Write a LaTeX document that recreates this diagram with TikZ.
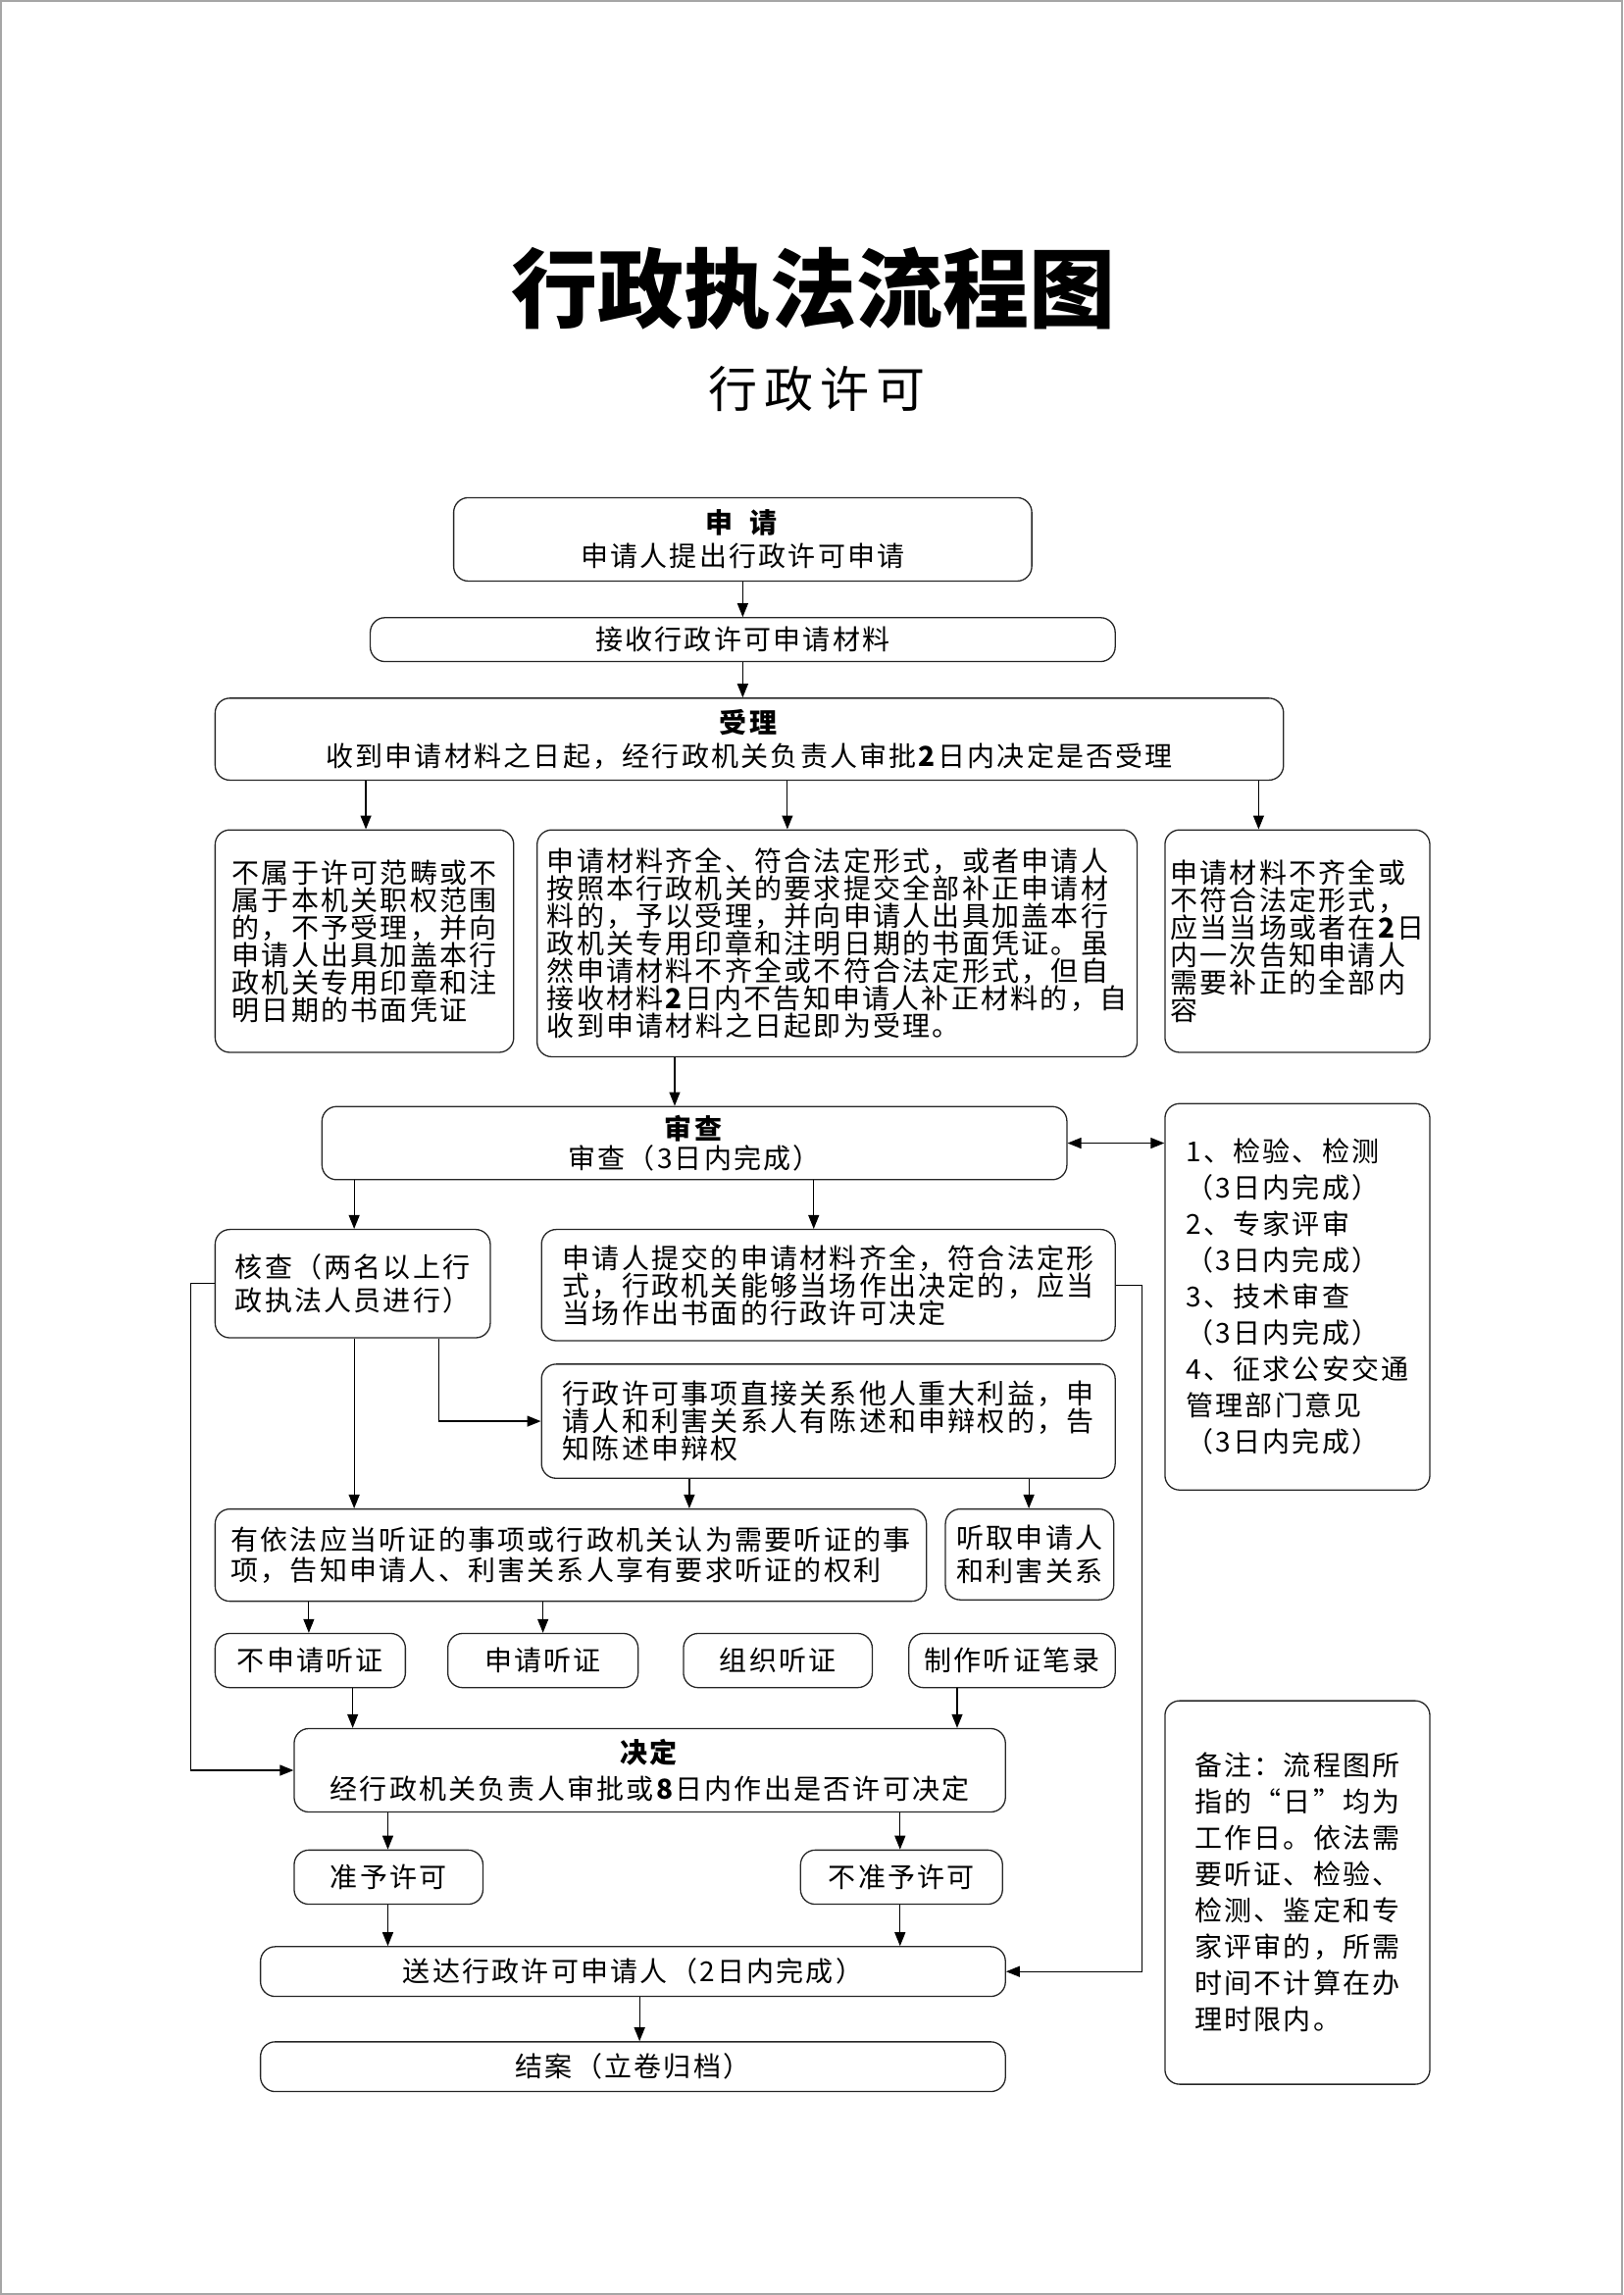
\documentclass[tikz,border=0pt]{standalone}
\usepackage{fontspec}
\setmainfont{Noto Sans CJK SC}[LetterSpace=8]
\newfontfamily\titlefont{Noto Sans CJK SC}
\newfontfamily\subfont{Noto Sans CJK SC}[LetterSpace=14]
\usetikzlibrary{arrows.meta}
\newcommand\bx[6][]{\node[box,#1,minimum width={(#4-#2)*1.49234pt},minimum height={(#5-#3)*1.49234pt}] (#6) at ({(#2+#4)/2},{(#3+#5)/2})}
\begin{document}
\begin{tikzpicture}[x=1.49234pt, y=-1.49234pt,
  box/.style={draw=black!85, line width=1.3pt, rounded corners=15pt, inner sep=0pt, align=left, font=\fontsize{28}{28}\selectfont},
  hdr/.style={align=center, font=\fontsize{28}{34}\selectfont},
  arr/.style={-{Triangle[length=14pt,width=11pt]}, line width=1.2pt, black},
  darr/.style={{Triangle[length=14pt,width=11pt]}-{Triangle[length=14pt,width=11pt]}, line width=1.2pt, black},
]
\useasboundingbox (0,0) rectangle (1109,1568);
\draw[gray!70, line width=2pt] (1,1) rectangle (1108,1567);

\node[font=\titlefont\bfseries\fontsize{88}{88}\selectfont] (title) at (556,197) {行政执法流程图};
\node[font=\subfont\fontsize{50}{50}\selectfont] (sub) at (558,266) {行政许可};

\bx[hdr]{310}{340}{705}{397}{sq} {\textbf{申\hspace{0.6em}请}\\申请人提出行政许可申请};
\bx{253}{422}{762}{452}{js} {接收行政许可申请材料};
\bx[hdr]{147}{477}{877}{533}{sl} {\textbf{受理}\\收到申请材料之日起，经行政机关负责人审批\textbf{2}日内决定是否受理};

\bx{147}{567}{351}{719}{b1} {不属于许可范畴或不\\属于本机关职权范围\\的，不予受理，并向\\申请人出具加盖本行\\政机关专用印章和注\\明日期的书面凭证};
\bx{367}{567}{777}{722}{b2} {申请材料齐全、符合法定形式，或者申请人\\按照本行政机关的要求提交全部补正申请材\\料的，予以受理，并向申请人出具加盖本行\\政机关专用印章和注明日期的书面凭证。虽\\然申请材料不齐全或不符合法定形式，但自\\接收材料\textbf{2}日内不告知申请人补正材料的，自\\收到申请材料之日起即为受理。};
\bx{796}{567}{977}{719}{b3} {申请材料不齐全或\\不符合法定形式，\\应当当场或者在\textbf{2}日\\内一次告知申请人\\需要补正的全部内\\容};

\bx[align=center, font=\fontsize{28}{30}\selectfont]{220}{756}{729}{806}{sc} {\textbf{审查}\\审查（3日内完成）};
\bx[font=\fontsize{28}{37}\selectfont]{796}{754}{977}{1018}{r1} {1、检验、检测\\（3日内完成）\\2、专家评审\\（3日内完成）\\3、技术审查\\（3日内完成）\\4、征求公安交通\\管理部门意见\\（3日内完成）};

\bx[font=\fontsize{28}{34}\selectfont]{147}{840}{335}{914}{hc} {核查（两名以上行\\政执法人员进行）};
\bx{370}{840}{762}{916}{tj} {申请人提交的申请材料齐全，符合法定形\\式，行政机关能够当场作出决定的，应当\\当场作出书面的行政许可决定};
\bx{370}{932}{762}{1010}{sx} {行政许可事项直接关系他人重大利益，申\\请人和利害关系人有陈述和申辩权的，告\\知陈述申辩权};

\bx[font=\fontsize{28}{31}\selectfont]{147}{1031}{633}{1094}{yf} {有依法应当听证的事项或行政机关认为需要听证的事\\项，告知申请人、利害关系人享有要求听证的权利};
\bx[font=\fontsize{28}{34}\selectfont]{646}{1031}{761}{1093}{tq} {听取申请人\\和利害关系};

\bx{147}{1116}{277}{1153}{s1} {不申请听证};
\bx{306}{1116}{436}{1153}{s2} {申请听证};
\bx{467}{1116}{596}{1153}{s3} {组织听证};
\bx{621}{1116}{762}{1153}{s4} {制作听证笔录};

\bx[align=center, font=\fontsize{28}{37}\selectfont]{201}{1181}{687}{1238}{jd} {\textbf{决定}\\经行政机关负责人审批或\textbf{8}日内作出是否许可决定};
\bx{201}{1264}{330}{1301}{zy} {准予许可};
\bx{547}{1264}{685}{1301}{bz} {不准予许可};
\bx{178}{1330}{687}{1364}{sd} {送达行政许可申请人（2日内完成）};
\bx{178}{1395}{687}{1429}{ja} {结案（立卷归档）};

\bx[font=\fontsize{28}{37}\selectfont]{796}{1162}{977}{1424}{note} {备注：流程图所\\指的“日”均为\\工作日。依法需\\要听证、检验、\\检测、鉴定和专\\家评审的，所需\\时间不计算在办\\理时限内。};

\draw[arr] (sq.south) -- (sq.south |- js.north);
\draw[arr] (js.south) -- (js.south |- sl.north);
\draw[arr] (sl.south -| 250,0) -- (b1.north -| 250,0);
\draw[arr] (sl.south -| 538,0) -- (b2.north -| 538,0);
\draw[arr] (sl.south -| 860,0) -- (b3.north -| 860,0);
\draw[arr] (b2.south -| 461,0) -- (sc.north -| 461,0);
\draw[darr] (sc.east) -- (sc.east -| r1.west);
\draw[arr] (sc.south -| 242,0) -- (hc.north -| 242,0);
\draw[arr] (sc.south -| 556,0) -- (tj.north -| 556,0);
\draw[arr] (hc.south -| 242,0) -- (yf.north -| 242,0);
\draw[arr] (hc.south -| 300,0) |- (sx.west);
\draw[arr] (hc.west) -- ++(-16,0) |- (jd.west);
\draw[arr] (tj.east) -- ++(18,0) |- (sd.east);
\draw[arr] (sx.south -| 471,0) -- (yf.north -| 471,0);
\draw[arr] (sx.south -| 703,0) -- (tq.north -| 703,0);
\draw[arr] (yf.south -| 211,0) -- (s1.north -| 211,0);
\draw[arr] (yf.south -| 371,0) -- (s2.north -| 371,0);
\draw[arr] (s1.south -| 241,0) -- (jd.north -| 241,0);
\draw[arr] (s4.south -| 654,0) -- (jd.north -| 654,0);
\draw[arr] (jd.south -| 265,0) -- (zy.north -| 265,0);
\draw[arr] (jd.south -| 615,0) -- (bz.north -| 615,0);
\draw[arr] (zy.south -| 265,0) -- (sd.north -| 265,0);
\draw[arr] (bz.south -| 615,0) -- (sd.north -| 615,0);
\draw[arr] (sd.south -| 437,0) -- (ja.north -| 437,0);
\end{tikzpicture}
\end{document}
